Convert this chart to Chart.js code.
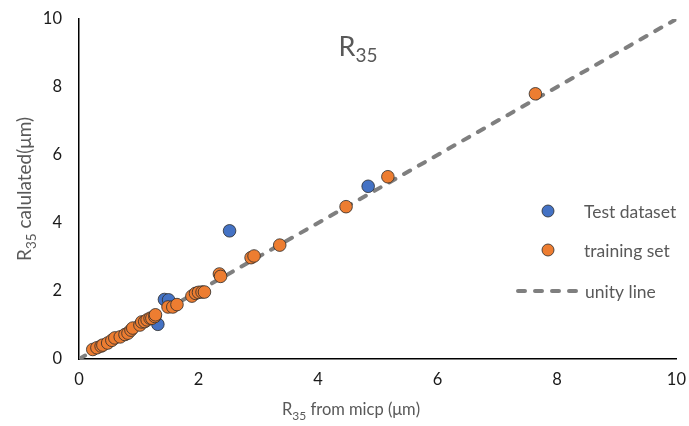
<!DOCTYPE html>
<html>
<head>
<meta charset="utf-8">
<script src="https://cdn.jsdelivr.net/npm/chart.js@4/dist/chart.umd.min.js"></script>
<style>
  html, body { margin: 0; padding: 0; background: #fff; }
  canvas { display: block; }
</style>
</head>
<body>
<canvas id="c" width="689" height="426"></canvas>
<script>
// ---- data ----
const testX = [2.52, 4.84, 1.43, 1.50, 1.32];
const testY = [3.77, 5.08, 1.75, 1.74, 1.02];

const trainX = [0.23, 0.30, 0.37, 0.40, 0.48, 0.55, 0.60, 0.69, 0.77, 0.82, 0.87, 0.90,
                1.02, 1.05, 1.10, 1.14, 1.19, 1.22, 1.27, 1.28, 1.49, 1.57, 1.64,
                1.89, 1.95, 2.00, 2.06, 2.10, 2.35, 2.37, 2.88, 2.93, 3.36, 4.47, 5.17, 7.64];
const trainY = [0.28, 0.33, 0.38, 0.41, 0.47, 0.55, 0.62, 0.65, 0.72, 0.76, 0.85, 0.91,
                1.00, 1.09, 1.10, 1.15, 1.20, 1.20, 1.25, 1.30, 1.53, 1.53, 1.60,
                1.85, 1.93, 1.96, 1.97, 1.97, 2.50, 2.43, 2.98, 3.03, 3.35, 4.48, 5.36, 7.80];

const unityX = [0, 10];
const unityY = [0, 10];

const axisTicks = [0, 2, 4, 6, 8, 10];
const seriesNames = ['Test dataset', 'training set', 'unity line'];

const toPts = (xs, ys) => xs.map((x, i) => ({ x: x, y: ys[i] }));

const FONT = 'Lato, "Open Sans", "Liberation Sans", sans-serif';
const GREY = '#595959';
const BLUE = '#4472C4';
const ORANGE = '#ED7D31';
const LINEGREY = '#7F7F7F';

function measureParts(ctx, parts, size, subSize) {
  let w = 0;
  parts.forEach(p => {
    ctx.font = (p.sub ? subSize : size) + 'px ' + FONT;
    w += ctx.measureText(p.t).width;
  });
  return w;
}
function drawParts(ctx, parts, x, y, size, subSize, subDrop) {
  let cx = x;
  parts.forEach(p => {
    ctx.font = (p.sub ? subSize : size) + 'px ' + FONT;
    ctx.fillText(p.t, cx, p.sub ? y + subDrop : y);
    cx += ctx.measureText(p.t).width;
  });
}

const decorPlugin = {
  id: 'decor',
  afterDraw(chart) {
    const ctx = chart.ctx;
    ctx.save();
    ctx.fillStyle = GREY;
    ctx.textBaseline = 'alphabetic';
    ctx.textAlign = 'left';

    // title
    const tParts = [{ t: 'R' }, { t: '35', sub: true }];
    const tw = measureParts(ctx, tParts, 27, 19);
    drawParts(ctx, tParts, 358 - tw / 2, 56, 27, 19, 6);

    // x axis title
    const xParts = [{ t: 'R' }, { t: '35', sub: true }, { t: ' from micp (μm)' }];
    const xw = measureParts(ctx, xParts, 16.5, 12);
    drawParts(ctx, xParts, 351 - xw / 2, 415, 16.5, 12, 5);

    // y axis title
    const yParts = [{ t: 'R' }, { t: '35', sub: true }, { t: ' calulated(μm)' }];
    const yw = measureParts(ctx, yParts, 19, 13.5);
    ctx.translate(31, 189);
    ctx.rotate(-Math.PI / 2);
    drawParts(ctx, yParts, -yw / 2, 0, 19, 13.5, 5);
    ctx.restore();

    // legend
    ctx.save();
    ctx.font = '17.5px ' + FONT;
    ctx.fillStyle = GREY;
    ctx.textBaseline = 'middle';
    const ds = chart.data.datasets;
    const rows = [211, 250, 291];
    [0, 1].forEach(k => {
      const d = ds.find(s => s.label === seriesNames[k]);
      ctx.beginPath();
      ctx.arc(548, rows[k], 6, 0, Math.PI * 2);
      ctx.fillStyle = d.backgroundColor;
      ctx.fill();
      ctx.lineWidth = 0.8;
      ctx.strokeStyle = d.borderColor;
      ctx.stroke();
      ctx.fillStyle = GREY;
      ctx.fillText(seriesNames[k], 584, rows[k] + 1);
    });
    const u = ds.find(s => s.label === seriesNames[2]);
    ctx.beginPath();
    ctx.setLineDash(u.borderDash);
    ctx.lineCap = 'round';
    ctx.lineWidth = u.borderWidth;
    ctx.strokeStyle = u.borderColor;
    ctx.moveTo(518, rows[2]);
    ctx.lineTo(579, rows[2]);
    ctx.stroke();
    ctx.setLineDash([]);
    ctx.fillText(seriesNames[2], 585, rows[2] + 1);
    ctx.restore();
  }
};

new Chart(document.getElementById('c'), {
  type: 'scatter',
  data: {
    datasets: [
      {
        label: seriesNames[1],
        data: toPts(trainX, trainY),
        backgroundColor: ORANGE,
        borderColor: '#2b2b2b',
        borderWidth: 0.8,
        pointRadius: 6.3,
        order: 0
      },
      {
        label: seriesNames[0],
        data: toPts(testX, testY),
        backgroundColor: BLUE,
        borderColor: '#2b2b2b',
        borderWidth: 0.8,
        pointRadius: 6.3,
        order: 1
      },
      {
        label: seriesNames[2],
        type: 'line',
        data: toPts(unityX, unityY),
        borderColor: LINEGREY,
        backgroundColor: LINEGREY,
        borderWidth: 4,
        borderDash: [7, 10],
        borderCapStyle: 'round',
        pointRadius: 0,
        fill: false,
        order: 2
      }
    ]
  },
  options: {
    responsive: false,
    animation: false,
    layout: { padding: { top: 19, right: 12, left: 0, bottom: 0 } },
    plugins: {
      legend: { display: false },
      tooltip: { enabled: false },
      title: { display: false }
    },
    scales: {
      x: {
        type: 'linear',
        min: 0, max: 10,
        afterBuildTicks: s => { s.ticks = axisTicks.map(v => ({ value: v })); },
        afterFit: s => { s.height = 67; },
        grid: { display: false },
        border: { display: true, color: '#000', width: 1.5 },
        ticks: { color: '#1a1a1a', font: { family: FONT, size: 16.5 }, padding: 3, maxRotation: 0 }
      },
      y: {
        type: 'linear',
        min: 0, max: 10,
        afterBuildTicks: s => { s.ticks = axisTicks.map(v => ({ value: v })); },
        afterFit: s => { s.width = 79; },
        grid: { display: false },
        border: { display: true, color: '#000', width: 1.5 },
        ticks: { color: '#1a1a1a', font: { family: FONT, size: 16.5 }, padding: 9 }
      }
    }
  },
  plugins: [decorPlugin]
});
</script>
</body>
</html>
